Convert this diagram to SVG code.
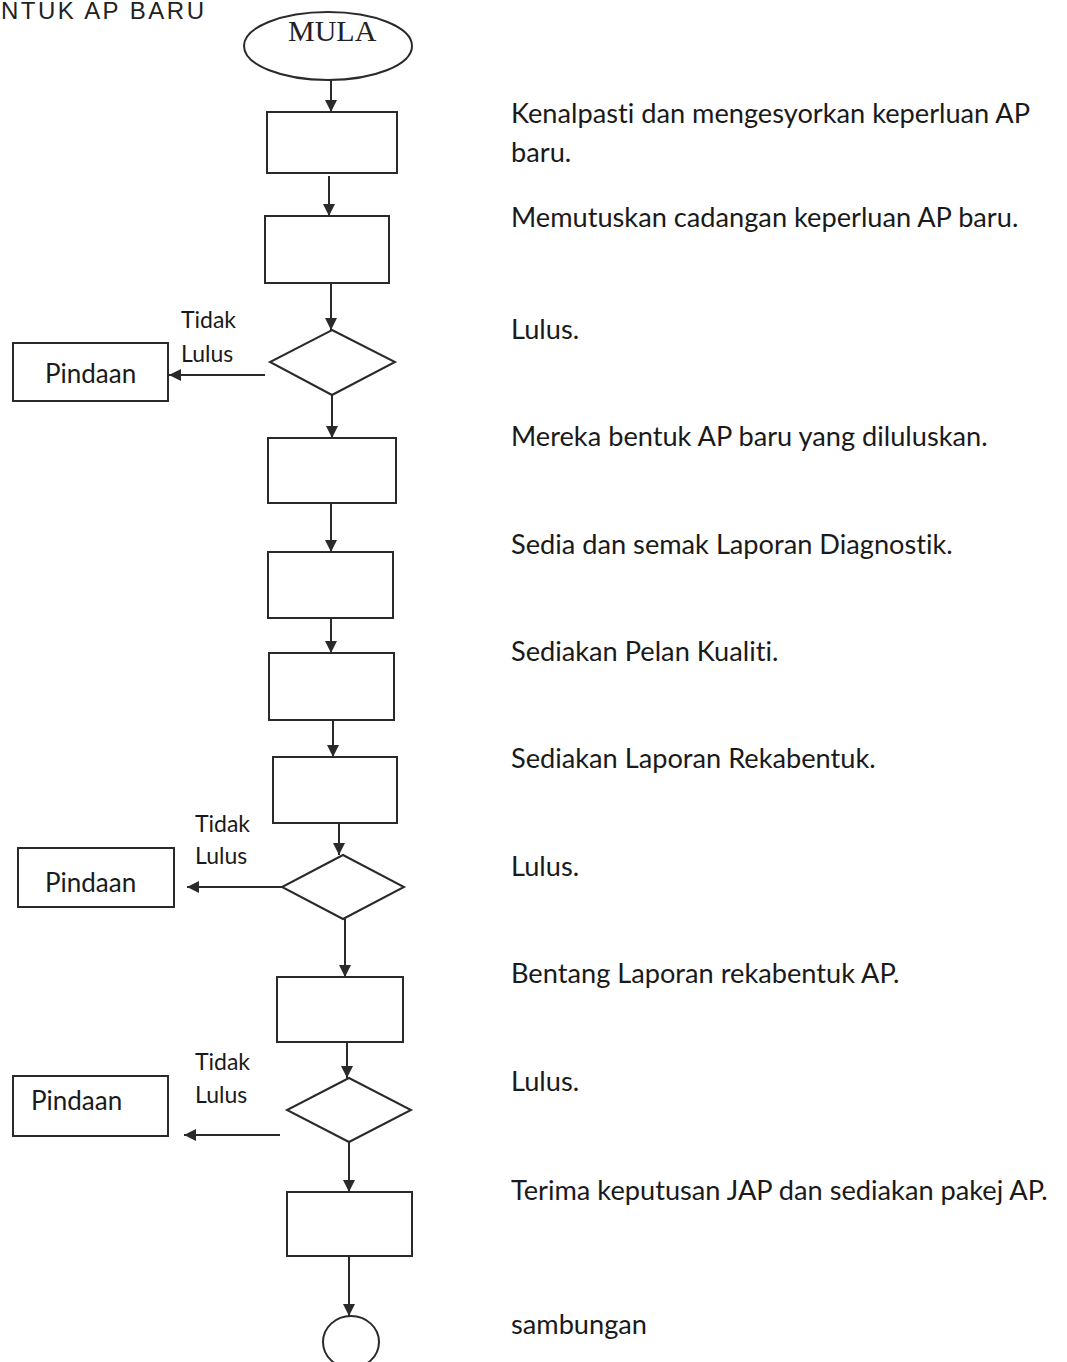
<svg xmlns="http://www.w3.org/2000/svg" width="1067" height="1362" viewBox="0 0 1067 1362">
<defs>
<style>
.shape{fill:#fff;stroke:#2a2a2a;stroke-width:2}
.conn{fill:none;stroke:#2a2a2a;stroke-width:2}
.lbl{font-family:Lato,"Liberation Sans",sans-serif;font-size:27.2px;fill:#1a1a1a;font-variant-ligatures:none}
.pin{font-family:Lato,"Liberation Sans",sans-serif;font-size:26px;fill:#1a1a1a}
.small{font-family:Lato,"Liberation Sans",sans-serif;font-size:23px;fill:#1a1a1a}
.title{font-family:"Liberation Sans",Arial,sans-serif;font-size:24px;fill:#222}
.mula{font-family:"Liberation Serif","Times New Roman",serif;font-size:30px;fill:#222}
</style>
<marker id="arr" viewBox="0 0 10 10" refX="10" refY="5" markerWidth="7" markerHeight="6" orient="auto" markerUnits="strokeWidth">
<path d="M0,0 L10,5 L0,10 z" fill="#2a2a2a"/>
</marker>
</defs>
<rect width="1067" height="1362" fill="#fff"/>
<text class="title" x="1" y="19" textLength="203">NTUK AP BARU</text>

<g id="connectors">
<path class="conn" marker-end="url(#arr)" d="M331 80 V112"/>
<path class="conn" marker-end="url(#arr)" d="M329 176 V216"/>
<path class="conn" marker-end="url(#arr)" d="M331 284 V330"/>
<path class="conn" marker-end="url(#arr)" d="M265 375 H169"/>
<path class="conn" marker-end="url(#arr)" d="M332 395 V438"/>
<path class="conn" marker-end="url(#arr)" d="M331 503 V552"/>
<path class="conn" marker-end="url(#arr)" d="M331 618 V653"/>
<path class="conn" marker-end="url(#arr)" d="M333 720 V757"/>
<path class="conn" marker-end="url(#arr)" d="M339 823 V855"/>
<path class="conn" marker-end="url(#arr)" d="M282 887 H187"/>
<path class="conn" marker-end="url(#arr)" d="M345 919 V977"/>
<path class="conn" marker-end="url(#arr)" d="M347 1042 V1078"/>
<path class="conn" marker-end="url(#arr)" d="M280 1135 H184"/>
<path class="conn" marker-end="url(#arr)" d="M349 1142 V1192"/>
<path class="conn" marker-end="url(#arr)" d="M349 1256 V1316"/>
</g>

<g id="mula">
<ellipse class="shape" cx="328" cy="46" rx="84" ry="34"/>
<text class="mula" x="288" y="41">MULA</text>
</g>
<g id="box1"><rect class="shape" x="267" y="112" width="130" height="61"/></g>
<g id="box2"><rect class="shape" x="265" y="216" width="124" height="67"/></g>
<g id="dec1"><polygon class="shape" points="332,330 395,362 332,395 270,362"/></g>
<g id="pindaan1">
<rect class="shape" x="13" y="343" width="155" height="58"/>
<text class="pin" x="45" y="383">Pindaan</text>
</g>
<g id="box3"><rect class="shape" x="268" y="438" width="128" height="65"/></g>
<g id="box4"><rect class="shape" x="268" y="552" width="125" height="66"/></g>
<g id="box5"><rect class="shape" x="269" y="653" width="125" height="67"/></g>
<g id="box6"><rect class="shape" x="273" y="757" width="124" height="66"/></g>
<g id="dec2"><polygon class="shape" points="343,855 404,887 343,919 282,887"/></g>
<g id="pindaan2">
<rect class="shape" x="18" y="848" width="156" height="59"/>
<text class="pin" x="45" y="892">Pindaan</text>
</g>
<g id="box7"><rect class="shape" x="277" y="977" width="126" height="65"/></g>
<g id="dec3"><polygon class="shape" points="349,1078 411,1110 349,1142 287,1110"/></g>
<g id="pindaan3">
<rect class="shape" x="13" y="1076" width="155" height="60"/>
<text class="pin" x="31" y="1110">Pindaan</text>
</g>
<g id="box8"><rect class="shape" x="287" y="1192" width="125" height="64"/></g>
<g id="connector-end"><ellipse class="shape" cx="351" cy="1342" rx="28" ry="26"/></g>

<g id="edge-labels">
<text class="small" x="181" y="328">Tidak</text>
<text class="small" x="181" y="362">Lulus</text>
<text class="small" x="195" y="832">Tidak</text>
<text class="small" x="195" y="864">Lulus</text>
<text class="small" x="195" y="1070">Tidak</text>
<text class="small" x="195" y="1103">Lulus</text>
</g>

<g id="descriptions">
<text class="lbl" x="511" y="123">Kenalpasti dan mengesyorkan keperluan AP</text>
<text class="lbl" x="511" y="162">baru.</text>
<text class="lbl" x="511" y="227">Memutuskan cadangan keperluan AP baru.</text>
<text class="lbl" x="511" y="339">Lulus.</text>
<text class="lbl" x="511" y="446">Mereka bentuk AP baru yang diluluskan.</text>
<text class="lbl" x="511" y="554">Sedia dan semak Laporan Diagnostik.</text>
<text class="lbl" x="511" y="661">Sediakan Pelan Kualiti.</text>
<text class="lbl" x="511" y="768">Sediakan Laporan Rekabentuk.</text>
<text class="lbl" x="511" y="876">Lulus.</text>
<text class="lbl" x="511" y="983">Bentang Laporan rekabentuk AP.</text>
<text class="lbl" x="511" y="1091">Lulus.</text>
<text class="lbl" x="511" y="1200">Terima keputusan JAP dan sediakan pakej AP.</text>
<text class="lbl" x="511" y="1334">sambungan</text>
</g>
</svg>
